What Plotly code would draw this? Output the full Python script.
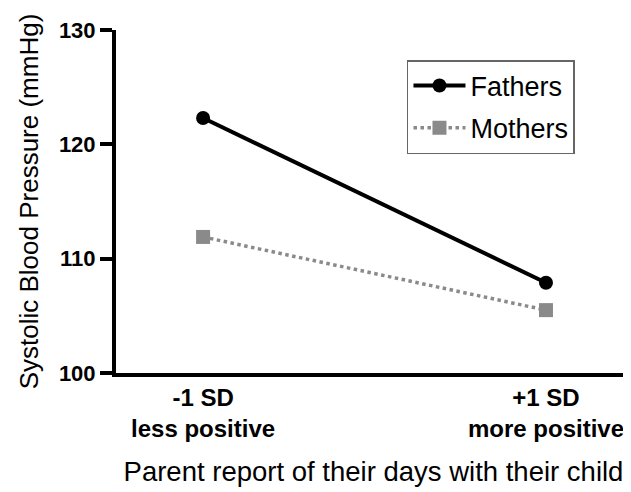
import plotly.graph_objects as go

categories = ["-1 SD<br>less positive", "+1 SD<br>more positive"]
x_pos = [0, 1]
fathers = [122.3, 107.9]
mothers = [111.9, 105.5]
y_ticks = [100, 110, 120, 130]

FONT = "Liberation Sans, Arial, sans-serif"

fig = go.Figure()
fig.add_trace(go.Scatter(
    x=x_pos, y=fathers, name="Fathers", mode="lines+markers",
    legendgroup="f",
    line=dict(color="black", width=4),
    marker=dict(symbol="circle", size=14, color="black"),
))
fig.add_trace(go.Scatter(
    x=x_pos, y=mothers, name="Mothers", mode="lines+markers",
    legendgroup="m",
    line=dict(color="#8a8a8a", width=3.5, dash="dot"),
    marker=dict(symbol="square", size=14, color="#8a8a8a"),
))

fig.update_layout(
    width=623, height=484,
    margin=dict(l=108, r=0, t=22, b=119),
    plot_bgcolor="white", paper_bgcolor="white",
    font=dict(family=FONT, color="black"),
    legend=dict(
        x=0.565, y=0.9125, xanchor="left", yanchor="top",
        bordercolor="#666666", borderwidth=1.5,
        font=dict(size=27, family=FONT, color="black"),
        itemwidth=52, traceorder="grouped", tracegroupgap=4,
        bgcolor="white",
    ),
    xaxis=dict(
        automargin=False,
        range=[-0.254, 1.248],
        tickvals=x_pos, ticktext=[f"<b>{c}</b>" for c in categories],
        tickfont=dict(size=24, family=FONT, color="black"),
        showline=True, linecolor="black", linewidth=4,
        ticks="", showgrid=False, zeroline=False,
        title=dict(text="Parent report of their days with their child",
                   font=dict(size=27.5, family=FONT, color="black"), standoff=22),
    ),
    yaxis=dict(
        automargin=False,
        range=[100, 130],
        tickvals=y_ticks, ticktext=[f"<b>{v}</b>" for v in y_ticks],
        tickfont=dict(size=22, family=FONT, color="black"),
        showline=True, linecolor="black", linewidth=4,
        ticks="outside", ticklen=12, tickwidth=4, tickcolor="black",
        showgrid=False, zeroline=False,
        title=dict(text="Systolic Blood Pressure (mmHg)",
                   font=dict(size=26, family=FONT, color="black"), standoff=14),
    ),
)

fig.write_html("out.html")
